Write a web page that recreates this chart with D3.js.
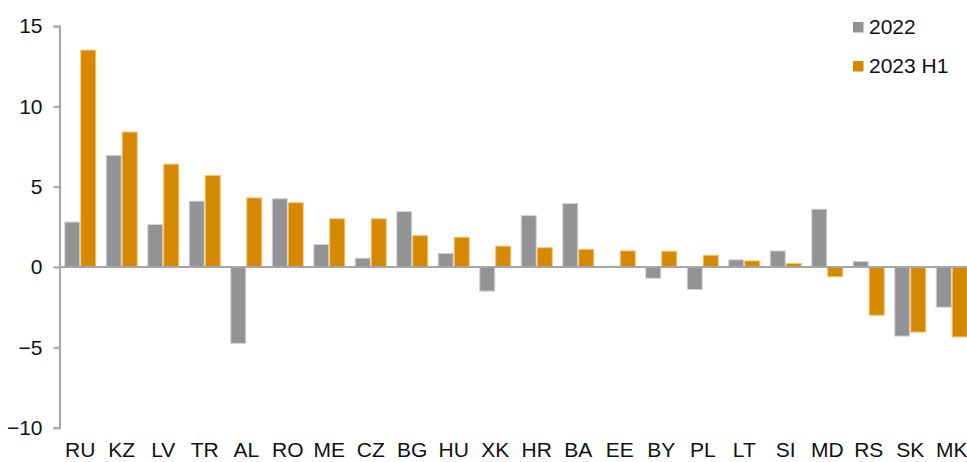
<!DOCTYPE html>
<html>
<head>
<meta charset="utf-8">
<script src="https://cdn.jsdelivr.net/npm/d3@7/dist/d3.min.js"></script>
<style>
  html, body { margin: 0; padding: 0; background: #ffffff; }
  svg { display: block; font-family: "Liberation Sans", Arial, sans-serif; }
</style>
</head>
<body>
<svg id="chart" width="967" height="462"></svg>
<script>
// Country codes along the x axis
const countries = ["RU","KZ","LV","TR","AL","RO","ME","CZ","BG","HU","XK","HR","BA","EE","BY","PL","LT","SI","MD","RS","SK","MK"];
// Series values
const values2022 = [2.8, 6.95, 2.65, 4.1, -4.75, 4.25, 1.4, 0.55, 3.45, 0.85, -1.5, 3.2, 3.95, 0.05, -0.7, -1.4, 0.45, 1.0, 3.6, 0.35, -4.3, -2.5];
const values2023H1 = [13.5, 8.4, 6.4, 5.7, 4.3, 4.0, 3.0, 3.0, 1.95, 1.85, 1.3, 1.2, 1.1, 1.0, 0.98, 0.73, 0.38, 0.22, -0.6, -3.0, -4.05, -4.35];
const seriesNames = ["2022", "2023 H1"];
const yTicks = [-10, -5, 0, 5, 10, 15];

const colors = { "2022": "#939396", "2023 H1": "#d68800" };
const strokes = { "2022": "#d4d4d6", "2023 H1": "#f2c372" };

const svg = d3.select("#chart");

const y = d3.scaleLinear().domain([-10, 15]).range([427.7, 26]);
const x = d3.scaleBand().domain(countries).range([59.5, 972.5])
  .paddingInner(0.229).paddingOuter(0.1145);
const xs = d3.scaleBand().domain(seriesNames).range([0, x.bandwidth()]);

const rows = countries.map((c, i) => ({ c, v: [values2022[i], values2023H1[i]] }));

// Bars
const groups = svg.append("g").selectAll("g").data(rows).join("g")
  .attr("transform", d => `translate(${x(d.c)},0)`);
groups.selectAll("rect")
  .data(d => seriesNames.map((s, k) => ({ s, v: d.v[k] })))
  .join("rect")
  .attr("x", d => xs(d.s) + 0.5)
  .attr("width", xs.bandwidth() - 1)
  .attr("y", d => Math.min(y(d.v), y(0)))
  .attr("height", d => Math.abs(y(d.v) - y(0)))
  .attr("fill", d => colors[d.s])
  .attr("stroke", d => strokes[d.s])
  .attr("stroke-width", 1);

// Zero line
svg.append("line")
  .attr("x1", 59.5).attr("x2", 967)
  .attr("y1", y(0)).attr("y2", y(0))
  .attr("stroke", "#a6a6a6").attr("stroke-width", 2);

// Y axis
const yAxis = svg.append("g")
  .attr("transform", "translate(59.5,0)")
  .call(d3.axisLeft(y).tickValues(yTicks).tickSize(6).tickPadding(11).tickFormat(d3.format("d")));
yAxis.select(".domain").attr("stroke", "#a6a6a6").attr("stroke-width", 2);
yAxis.selectAll(".tick line").attr("stroke", "#a6a6a6").attr("stroke-width", 2);
yAxis.selectAll(".tick text")
  .attr("fill", "#111")
  .style("font-size", "21px")
  .style("font-family", "'Liberation Sans', Arial, sans-serif");

// X axis labels
const xAxis = svg.append("g")
  .attr("transform", `translate(0,${y(-10)})`)
  .call(d3.axisBottom(x).tickSize(0).tickPadding(14));
xAxis.select(".domain").remove();
xAxis.selectAll(".tick text")
  .attr("fill", "#111")
  .style("font-size", "21px")
  .style("font-family", "'Liberation Sans', Arial, sans-serif");

// Legend
const legend = svg.append("g").attr("transform", "translate(853,22)");
seriesNames.forEach((s, k) => {
  const g = legend.append("g").attr("transform", `translate(0,${k * 39})`);
  g.append("rect").attr("width", 10.5).attr("height", 10.5).attr("fill", colors[s]);
  g.append("text").attr("x", 16).attr("y", 12)
    .attr("fill", "#111")
    .style("font-size", "21px")
    .text(s);
});
</script>
</body>
</html>
